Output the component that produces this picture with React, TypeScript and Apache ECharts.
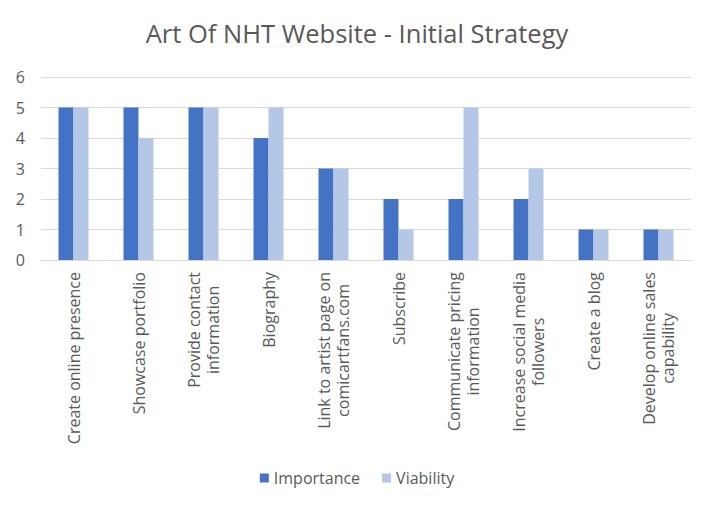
import React, { useEffect, useRef } from "react";
import * as echarts from "echarts";

const title = "Art Of NHT Website - Initial Strategy";
const categories = [
  "Create online presence",
  "Showcase portfolio",
  "Provide contact\ninformation",
  "Biography",
  "Link to artist page on\ncomicartfans.com",
  "Subscribe",
  "Communicate pricing\ninformation",
  "Increase social media\nfollowers",
  "Create a blog",
  "Develop online sales\ncapability",
];
const importance = [5, 5, 5, 4, 3, 2, 2, 2, 1, 1];
const viability = [5, 4, 5, 5, 3, 1, 5, 3, 1, 1];
const yTicks = [0, 1, 2, 3, 4, 5, 6];

const FONT = "Open Sans";

export default function App() {
  const ref = useRef<HTMLDivElement>(null);
  useEffect(() => {
    if (!ref.current) return;
    const chart = echarts.init(ref.current, undefined, { renderer: "svg" });
    chart.setOption({
      animation: false,
      title: {
        text: title,
        left: "center",
        top: 15,
        textStyle: { fontFamily: FONT, fontSize: 25.5, fontWeight: "normal", color: "#595959" },
      },
      grid: { left: 41, right: 23, top: 77, bottom: 249, containLabel: false },
      legend: {
        bottom: 18,
        left: "center",
        itemWidth: 9,
        itemHeight: 9,
        itemGap: 22,
        icon: "rect",
        textStyle: { fontFamily: FONT, fontSize: 16, color: "#595959" },
      },
      xAxis: {
        type: "category",
        data: categories,
        axisLine: { lineStyle: { color: "#d9d9d9", width: 1 } },
        axisTick: { show: false },
        axisLabel: {
          interval: 0,
          rotate: 90,
          margin: 12,
          fontFamily: FONT,
          fontSize: 16,
          color: "#595959",
          lineHeight: 19,
          formatter: (v: string) => v.split("\n").map((l) => `{c|${l}}`).join("\n"),
          rich: { c: { align: "center", fontFamily: FONT, fontSize: 16, color: "#595959", lineHeight: 19 } },
        },
      },
      yAxis: {
        type: "value",
        min: yTicks[0],
        max: yTicks[yTicks.length - 1],
        interval: 1,
        axisLine: { show: false },
        axisTick: { show: false },
        splitLine: { lineStyle: { color: "#d9d9d9", width: 1 } },
        axisLabel: { fontFamily: FONT, fontSize: 16, color: "#595959", margin: 16 },
      },
      series: [
        {
          name: "Importance",
          type: "bar",
          data: importance,
          itemStyle: { color: "#4472c4" },
          barWidth: 15,
          barGap: "0%",
        },
        {
          name: "Viability",
          type: "bar",
          data: viability,
          itemStyle: { color: "#b4c7e7" },
          barWidth: 15,
          barGap: "0%",
        },
      ],
    });
    return () => chart.dispose();
  }, []);
  return <div ref={ref} style={{ width: 714, height: 509, margin: -8 }} />;
}
